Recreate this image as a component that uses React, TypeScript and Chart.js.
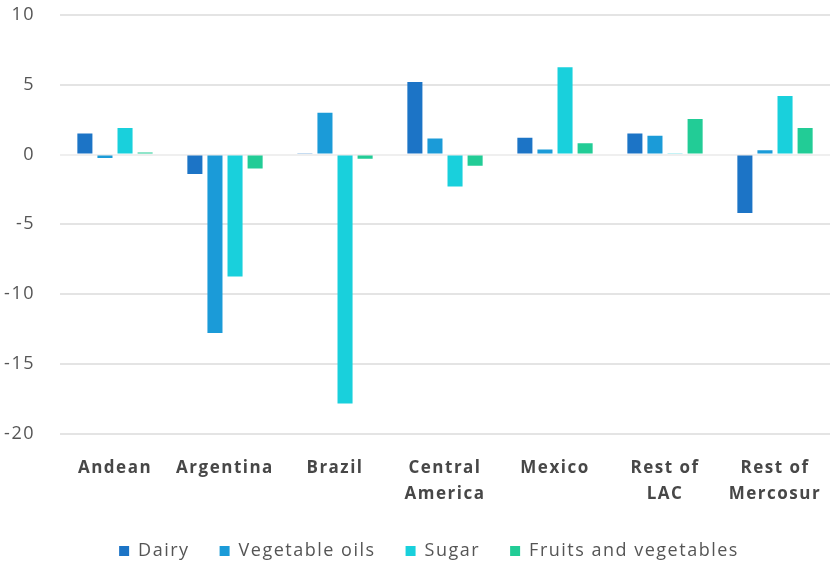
import React, { useEffect, useRef } from "react";
import { Chart, registerables } from "chart.js";

Chart.register(...registerables);

const regions = [
  ["Andean"],
  ["Argentina"],
  ["Brazil"],
  ["Central", "America"],
  ["Mexico"],
  ["Rest of", "LAC"],
  ["Rest of", "Mercosur"],
];

const dairy = [1.5, -1.4, 0.05, 5.2, 1.2, 1.5, -4.2];
const vegetableOils = [-0.25, -12.8, 3.0, 1.15, 0.35, 1.35, 0.3];
const sugar = [1.9, -8.75, -17.85, -2.3, 6.25, 0.05, 4.2];
const fruitsAndVegetables = [0.15, -1.0, -0.3, -0.8, 0.8, 2.55, 1.9];

const yTicks = [10, 5, 0, -5, -10, -15, -20];

const seriesNames = ["Dairy", "Vegetable oils", "Sugar", "Fruits and vegetables"];
const seriesColors = ["#1c74c6", "#1b9bd8", "#19d0dc", "#22cc96"];

// Slightly open letter spacing for every label on the canvas.
const SPACING = "1.5px";
const letterSpacingPlugin = {
  id: "letterSpacing",
  beforeUpdate(chart: any) {
    chart.ctx.letterSpacing = SPACING;
  },
  beforeLayout(chart: any) {
    chart.ctx.letterSpacing = SPACING;
  },
  beforeDraw(chart: any) {
    chart.ctx.letterSpacing = SPACING;
  },
};

// Nudge the legend row a little to the right of the canvas centre.
const LEGEND_SHIFT = 14;
const legendShiftPlugin = {
  id: "legendShift",
  afterLayout(chart: any) {
    const legend = chart.legend;
    if (!legend) return;
    legend.left += LEGEND_SHIFT;
    legend.right += LEGEND_SHIFT;
  },
};

export default function App() {
  const ref = useRef<HTMLCanvasElement | null>(null);

  useEffect(() => {
    if (!ref.current) return;
    const values = [dairy, vegetableOils, sugar, fruitsAndVegetables];
    const chart = new Chart(ref.current, {
      type: "bar",
      data: {
        labels: regions,
        datasets: values.map((data, i) => ({
          label: seriesNames[i],
          data,
          backgroundColor: seriesColors[i],
          borderWidth: 0,
          categoryPercentage: 0.73,
          barPercentage: 0.75,
        })),
      },
      plugins: [letterSpacingPlugin, legendShiftPlugin],
      options: {
        animation: false,
        responsive: true,
        maintainAspectRatio: false,
        layout: { padding: { top: 0, right: 0, left: 0, bottom: -3 } },
        plugins: {
          tooltip: { enabled: false },
          legend: {
            position: "bottom",
            labels: {
              boxWidth: 10,
              boxHeight: 10,
              padding: 30,
              color: "#555555",
              font: { family: "Open Sans", size: 18 },
            },
          },
        },
        scales: {
          x: {
            grid: { display: false },
            border: { display: false },
            ticks: {
              color: "#474747",
              font: { family: "Open Sans", size: 17, weight: 700, lineHeight: 1.5 },
              padding: 14,
              maxRotation: 0,
              autoSkip: false,
            },
            afterFit: (scale: any) => {
              scale.height = 78.5;
              scale.paddingLeft = 0;
              scale.paddingRight = 0;
            },
          },
          y: {
            min: -20,
            max: 10,
            afterBuildTicks: (scale: any) => {
              scale.ticks = yTicks.map((v) => ({ value: v }));
            },
            afterFit: (scale: any) => {
              scale.width = 60;
              scale.paddingTop = 15;
              scale.paddingBottom = 0;
            },
            border: { display: false },
            grid: {
              color: (ctx: any) => (ctx.tick && ctx.tick.value === 0 ? "#efefef" : "#e4e4e4"),
              lineWidth: 2,
              drawTicks: false,
            },
            ticks: {
              color: "#555555",
              font: { family: "Open Sans", size: 18 },
              padding: 25,
            },
          },
        },
      },
    });
    return () => chart.destroy();
  }, []);

  return (
    <div style={{ position: "fixed", left: 0, top: 0, width: 830, height: 567, background: "#ffffff" }}>
      <canvas ref={ref} />
    </div>
  );
}
